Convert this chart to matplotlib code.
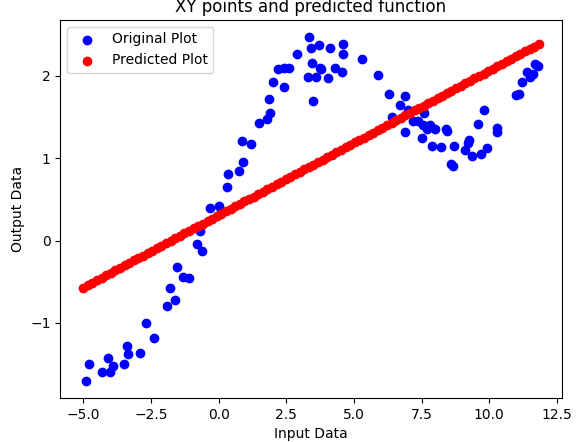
import matplotlib
matplotlib.use("Agg")
import matplotlib.pyplot as plt

# puntos originales
x_orig = [-4.9, -4.8, -4.3, -4.1, -4.0, -3.9, -3.5, -3.4, -3.35, -2.9, -2.7, -2.4,
          -1.9, -1.8, -1.6, -1.55, -1.3, -1.1, -0.8, -0.7, -0.6, -0.3, 0.0, 0.1,
          0.3, 0.35, 0.75, 0.85, 0.9, 1.2, 1.5, 1.8, 1.85, 1.9, 2.0, 2.2, 2.4, 2.4,
          2.6, 2.9, 3.3, 3.35, 3.4, 3.45, 3.5, 3.6, 3.7, 3.75, 3.8, 4.1, 4.05, 4.3,
          4.6, 4.6, 4.55, 5.3, 5.9, 6.3, 6.4, 6.7, 6.9, 6.9, 7.0, 7.2, 7.35, 7.5,
          7.55, 7.6, 7.7, 7.8, 7.9, 8.0, 8.2, 8.4, 8.45, 8.6, 8.65, 8.7, 9.1, 9.2,
          9.25, 9.35, 9.6, 9.7, 9.8, 9.9, 10.3, 10.3, 11.0, 11.1, 11.2, 11.4, 11.5,
          11.6, 11.7, 11.8]
y_orig = [-1.7, -1.5, -1.6, -1.42, -1.6, -1.52, -1.5, -1.28, -1.38, -1.37, -1.0, -1.18,
          -0.8, -0.57, -0.72, -0.32, -0.44, -0.45, -0.04, 0.12, -0.13, 0.4, 0.42, 0.35,
          0.65, 0.81, 0.85, 1.21, 0.95, 1.17, 1.43, 1.48, 1.72, 1.55, 1.93, 2.08, 1.87, 2.1,
          2.1, 2.27, 1.98, 2.47, 2.34, 2.15, 1.7, 1.98, 2.37, 2.1, 2.08, 2.34, 1.97, 2.1,
          2.38, 2.27, 2.05, 2.2, 2.01, 1.78, 1.5, 1.65, 1.75, 1.32, 1.59, 1.45, 1.45, 1.25,
          1.4, 1.55, 1.36, 1.4, 1.15, 1.36, 1.13, 1.36, 1.33, 0.93, 0.9, 1.15, 1.1, 1.18,
          1.22, 1.03, 1.42, 1.05, 1.59, 1.12, 1.37, 1.32, 1.77, 1.78, 1.92, 2.04, 1.99,
          2.02, 2.14, 2.12]

x_pred = [-5.0, -4.83, -4.66, -4.49, -4.32, -4.15, -3.98, -3.81, -3.64, -3.47, -3.3,
          -3.13, -2.96, -2.79, -2.62, -2.45, -2.28, -2.11, -1.94, -1.77, -1.6, -1.43,
          -1.26, -1.09, -0.92, -0.75, -0.58, -0.41, -0.24, -0.07, 0.1, 0.27, 0.44, 0.61,
          0.78, 0.95, 1.12, 1.29, 1.46, 1.63, 1.8, 1.97, 2.14, 2.31, 2.48, 2.65, 2.82,
          2.99, 3.16, 3.33, 3.5, 3.67, 3.84, 4.01, 4.18, 4.35, 4.52, 4.69, 4.86, 5.03,
          5.2, 5.37, 5.54, 5.71, 5.88, 6.05, 6.22, 6.39, 6.56, 6.73, 6.9, 7.07, 7.24,
          7.41, 7.58, 7.75, 7.92, 8.09, 8.26, 8.43, 8.6, 8.77, 8.94, 9.11, 9.28, 9.45,
          9.62, 9.79, 9.96, 10.13, 10.3, 10.47, 10.64, 10.81, 10.98, 11.15, 11.32,
          11.49, 11.66, 11.83]

# modelo lineal predicho
pendiente = 0.1756
intercepto = 0.308

def predecir(x):
    return pendiente * x + intercepto

y_pred = [predecir(x) for x in x_pred]

fig = plt.figure(figsize=(5.76, 4.42), dpi=100)
plano = fig.gca()
plano.scatter(x_orig, y_orig, color="blue", label="Original Plot")
plano.scatter(x_pred, y_pred, color="red", label="Predicted Plot")
plano.set_title("XY points and predicted function")
plano.set_xlabel("Input Data")
plano.set_ylabel("Output Data")
plano.set_xticks([-5.0, -2.5, 0.0, 2.5, 5.0, 7.5, 10.0, 12.5])
plano.legend(loc="upper left")
fig.subplots_adjust(left=0.105, right=0.975, top=0.955, bottom=0.1)
fig.savefig("out.png")
